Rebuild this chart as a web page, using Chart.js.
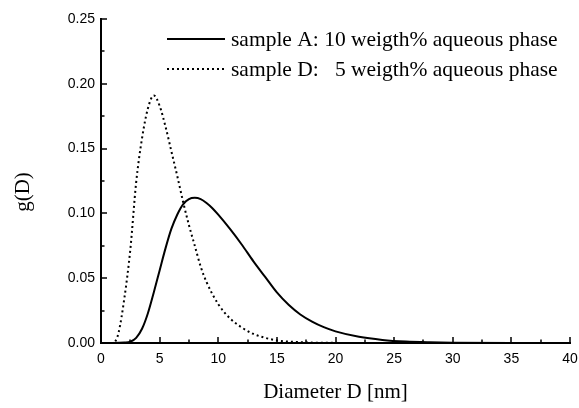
<!DOCTYPE html>
<html>
<head>
<meta charset="utf-8">
<script src="https://cdn.jsdelivr.net/npm/chart.js@4"></script>
<style>
  html, body { margin: 0; padding: 0; background: #fff; }
  #wrap { width: 579px; height: 408px; }
</style>
</head>
<body>
<div id="wrap"><canvas id="chart" width="579" height="408"></canvas></div>
<script>
"use strict";

// Diameter values (nm) and g(D).
const diamA = [0, 1, 2, 2.5, 3, 3.5, 4, 4.5, 5, 5.5, 6, 6.5, 7, 7.5, 8, 8.5, 9, 9.5, 10, 11, 12, 13, 14, 15, 16, 17, 18, 19, 20, 22, 24, 26, 28, 30, 35, 40];
const gA = [0, 0, 0.0003, 0.001, 0.004, 0.011, 0.023, 0.039, 0.056, 0.073, 0.088, 0.099, 0.107, 0.111, 0.112, 0.111, 0.108, 0.104, 0.099, 0.088, 0.076, 0.063, 0.051, 0.039, 0.0295, 0.022, 0.0165, 0.0122, 0.009, 0.0048, 0.0024, 0.0011, 0.0005, 0.0002, 0, 0];

const diamD = [0, 1, 1.2, 1.5, 2, 2.5, 3, 3.5, 4, 4.5, 5, 5.5, 6, 6.5, 7, 7.5, 8, 8.5, 9, 10, 11, 12, 13, 14, 15, 17, 20, 25, 40];
const gD = [0, 0, 0.001, 0.008, 0.035, 0.072, 0.124, 0.158, 0.181, 0.191, 0.183, 0.167, 0.148, 0.129, 0.109, 0.091, 0.075, 0.059, 0.047, 0.030, 0.019, 0.012, 0.007, 0.004, 0.002, 0.0006, 0.0001, 0, 0];

const labelA = "sample A: 10 weigth% aqueous phase";
const labelD = "sample D:   5 weigth% aqueous phase";
const xTitle = "Diameter D [nm]";
const yTitle = "g(D)";

const xMajor = [0, 5, 10, 15, 20, 25, 30, 35, 40];
const yMajor = [0, 0.05, 0.10, 0.15, 0.20, 0.25];

const toPoints = (xs, ys) => xs.map((x, i) => ({ x, y: ys[i] }));

const SERIF = "'Liberation Serif', 'DejaVu Serif', serif";
const SANS = "'Liberation Sans', Arial, sans-serif";

// Inward major/minor ticks on the left and bottom axes.
const innerTicks = {
  id: "innerTicks",
  afterDraw(chart) {
    const { ctx, chartArea: a, scales: { x, y } } = chart;
    ctx.save();
    ctx.strokeStyle = "#000";
    ctx.lineWidth = 1.5;
    ctx.beginPath();
    for (let v = 0; v <= 40; v += 2.5) {
      const px = Math.round(x.getPixelForValue(v));
      const len = v % 5 === 0 ? 6 : 3.5;
      ctx.moveTo(px, a.bottom);
      ctx.lineTo(px, a.bottom - len);
    }
    for (let k = 0; k <= 10; k++) {
      const py = Math.round(y.getPixelForValue(k * 0.025));
      const len = k % 2 === 0 ? 6 : 3.5;
      ctx.moveTo(a.left, py);
      ctx.lineTo(a.left + len, py);
    }
    ctx.stroke();
    ctx.restore();
  },
};

// Legend drawn inside the plot (top right) and the rotated y title.
const extras = {
  id: "extras",
  afterDraw(chart) {
    const { ctx, chartArea: a } = chart;
    ctx.save();
    ctx.font = "21.5px " + SERIF;
    ctx.fillStyle = "#000";
    ctx.textBaseline = "middle";
    chart.data.datasets.forEach((ds, i) => {
      const yy = 39 + i * 30;
      ctx.strokeStyle = "#000";
      ctx.lineWidth = ds.borderWidth;
      ctx.setLineDash(ds.borderDash || []);
      ctx.beginPath();
      ctx.moveTo(167, yy);
      ctx.lineTo(225, yy);
      ctx.stroke();
      ctx.setLineDash([]);
      ctx.fillText(ds.label, 231, yy + 1);
    });

    ctx.font = "21px " + SERIF;
    ctx.textAlign = "center";
    ctx.translate(23, (a.top + a.bottom) / 2 + 11);
    ctx.rotate(-Math.PI / 2);
    ctx.fillText(yTitle, 0, 0);
    ctx.restore();
  },
};

const ctx = document.getElementById("chart").getContext("2d");
new Chart(ctx, {
  type: "line",
  data: {
    datasets: [
      {
        label: labelA,
        data: toPoints(diamA, gA),
        borderColor: "#000",
        borderWidth: 2,
        pointRadius: 0,
        cubicInterpolationMode: "monotone",
        fill: false,
      },
      {
        label: labelD,
        data: toPoints(diamD, gD),
        borderColor: "#000",
        borderWidth: 2,
        borderDash: [2, 3],
        borderCapStyle: "butt",
        pointRadius: 0,
        cubicInterpolationMode: "monotone",
        fill: false,
      },
    ],
  },
  options: {
    responsive: false,
    animation: false,
    layout: { padding: { top: 19, right: 9, left: 0, bottom: 0 } },
    plugins: { legend: { display: false }, tooltip: { enabled: false } },
    scales: {
      x: {
        type: "linear",
        min: 0,
        max: 40,
        afterBuildTicks: (s) => { s.ticks = xMajor.map((v) => ({ value: v })); },
        afterFit: (s) => { s.height = 65; s.paddingLeft = 0; s.paddingRight = 0; },
        ticks: { color: "#000", padding: 8, font: { family: SANS, size: 14 }, callback: (v) => String(v) },
        grid: { display: false, drawTicks: false },
        border: { display: true, color: "#000", width: 2 },
        title: { display: true, text: xTitle, color: "#000", font: { family: SERIF, size: 21 }, padding: { top: 0, bottom: 3 } },
      },
      y: {
        type: "linear",
        min: 0,
        max: 0.25,
        afterBuildTicks: (s) => { s.ticks = yMajor.map((v) => ({ value: v })); },
        afterFit: (s) => { s.width = 101; s.paddingTop = 0; s.paddingBottom = 0; },
        ticks: { color: "#000", padding: 6, font: { family: SANS, size: 14 }, callback: (v) => Number(v).toFixed(2) },
        grid: { display: false, drawTicks: false },
        border: { display: true, color: "#000", width: 2 },
        title: { display: false },
      },
    },
  },
  plugins: [innerTicks, extras],
});
</script>
</body>
</html>
